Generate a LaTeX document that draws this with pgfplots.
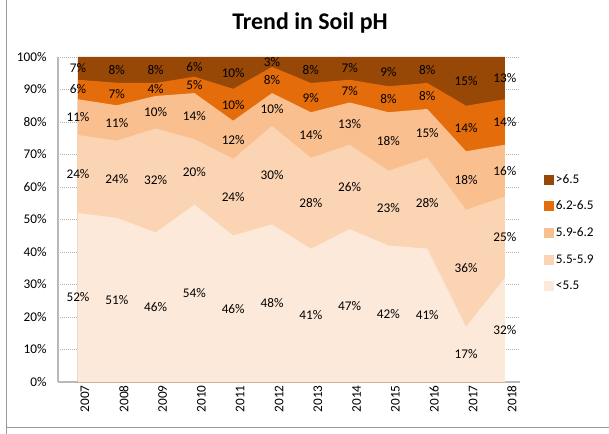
\documentclass[border=0pt]{standalone}
\usepackage{pgfplots}
\pgfplotsset{compat=1.18}
\usepackage{pgfplotstable}
\usepackage{fontspec}
\setmainfont{Carlito}
\definecolor{cA}{HTML}{FDE9D9}
\definecolor{cB}{HTML}{FBD4B4}
\definecolor{cC}{HTML}{F9BF8F}
\definecolor{cD}{HTML}{E46C0A}
\definecolor{cE}{HTML}{974706}
\pgfplotstableread{
yr a b c d e
0 52 24 11 6 7
1 51 24 11 7 8
2 46 32 10 4 8
3 54 20 14 5 6
4 46 24 12 10 10
5 48 30 10 8 3
6 41 28 14 9 8
7 47 26 13 7 7
8 42 23 18 8 9
9 41 28 15 8 8
10 17 36 18 14 15
11 32 25 16 14 13
}\data
\newcommand{\tot}{(\thisrow{a}+\thisrow{b}+\thisrow{c}+\thisrow{d}+\thisrow{e})}
\newcommand{\lf}{\fontsize{13.3}{15}\selectfont}
\begin{document}
\begin{tikzpicture}
\useasboundingbox (0,0) rectangle (609bp,434bp);
\draw[gray!80, line width=0.8bp] (6.5bp,0) -- (6.5bp,434bp);
\draw[gray!80, line width=0.8bp] (6.5bp,7bp) -- (609bp,7bp);
\node[font=\bfseries\fontsize{24}{28}\selectfont] at (310bp,411bp) {Trend in Soil pH};
\begin{axis}[
  at={(58bp,52bp)}, anchor=south west,
  scale only axis, width=462bp, height=325bp,
  xmin=-0.515, xmax=11.39, ymin=0, ymax=100,
  clip=false,
  axis x line*=bottom, axis y line*=left,
  axis line style={-, draw=gray!55, line width=1.5bp},
  major tick length=0pt,
  ytick={0,10,...,100},
  yticklabel={\pgfmathprintnumber{\tick}\%},
  /pgf/number format/assume math mode=true,
  yticklabel style={font=\lf, xshift=-8bp},
  xtick={0,...,11},
  xticklabels={2007,2008,2009,2010,2011,2012,2013,2014,2015,2016,2017,2018},
  xticklabel style={rotate=90, anchor=east, font=\lf, yshift=-7bp},
  ymajorgrids,
  grid style={gray!60, dash pattern=on 1bp off 1bp},
  legend style={at={(1.045,0.652)}, anchor=north west, draw=none, fill=none, font=\lf, row sep=12.3bp, cells={anchor=west}},
  legend image code/.code={\fill[#1] (0bp,-5bp) rectangle (10bp,5bp);},
  every node near coord/.style={anchor=center, font=\lf, black},
]
\addplot[fill=cE, draw=none] table[x=yr, y expr={100*(\thisrow{a}+\thisrow{b}+\thisrow{c}+\thisrow{d}+\thisrow{e})/\tot}] {\data} \closedcycle;
\addlegendentry{>6.5}
\addplot[fill=cD, draw=none] table[x=yr, y expr={100*(\thisrow{a}+\thisrow{b}+\thisrow{c}+\thisrow{d})/\tot}] {\data} \closedcycle;
\addlegendentry{6.2-6.5}
\addplot[fill=cC, draw=none] table[x=yr, y expr={100*(\thisrow{a}+\thisrow{b}+\thisrow{c})/\tot}] {\data} \closedcycle;
\addlegendentry{5.9-6.2}
\addplot[fill=cB, draw=none] table[x=yr, y expr={100*(\thisrow{a}+\thisrow{b})/\tot}] {\data} \closedcycle;
\addlegendentry{5.5-5.9}
\addplot[fill=cA, draw=none] table[x=yr, y expr={100*(\thisrow{a})/\tot}] {\data} \closedcycle;
\addlegendentry{<5.5}
% labels
\addplot[forget plot, only marks, mark=*, mark size=0pt, mark options={draw=none,fill=none}, nodes near coords={\pgfplotspointmeta\%}, point meta=explicit symbolic] table[x=yr, meta=a, y expr={100*(0.5*\thisrow{a})/\tot}] {\data};
\addplot[forget plot, only marks, mark=*, mark size=0pt, mark options={draw=none,fill=none}, nodes near coords={\pgfplotspointmeta\%}, point meta=explicit symbolic] table[x=yr, meta=b, y expr={100*(\thisrow{a}+0.5*\thisrow{b})/\tot}] {\data};
\addplot[forget plot, only marks, mark=*, mark size=0pt, mark options={draw=none,fill=none}, nodes near coords={\pgfplotspointmeta\%}, point meta=explicit symbolic] table[x=yr, meta=c, y expr={100*(\thisrow{a}+\thisrow{b}+0.5*\thisrow{c})/\tot}] {\data};
\addplot[forget plot, only marks, mark=*, mark size=0pt, mark options={draw=none,fill=none}, nodes near coords={\pgfplotspointmeta\%}, point meta=explicit symbolic] table[x=yr, meta=d, y expr={100*(\thisrow{a}+\thisrow{b}+\thisrow{c}+0.5*\thisrow{d})/\tot}] {\data};
\addplot[forget plot, only marks, mark=*, mark size=0pt, mark options={draw=none,fill=none}, nodes near coords={\pgfplotspointmeta\%}, point meta=explicit symbolic] table[x=yr, meta=e, y expr={100*(\thisrow{a}+\thisrow{b}+\thisrow{c}+\thisrow{d}+0.5*\thisrow{e})/\tot}] {\data};
\end{axis}
\end{tikzpicture}
\end{document}
